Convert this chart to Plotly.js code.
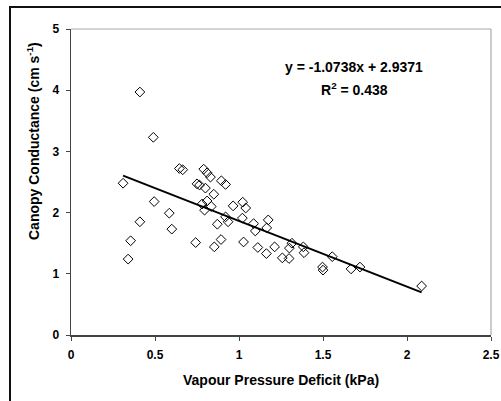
<!DOCTYPE html>
<html>
<head>
<meta charset="utf-8">
<script src="https://cdn.plot.ly/plotly-3.0.1.min.js"></script>
<style>
html,body{margin:0;padding:0;background:#fff;overflow:hidden;}
#wrap{position:relative;width:501px;height:401px;}
#chart{position:absolute;left:0;top:0;width:501px;height:401px;}
#frame{position:absolute;left:9px;top:6px;width:600px;height:600px;border-left:2px solid #111;border-top:2px solid #111;pointer-events:none;}
</style>
</head>
<body>
<div id="wrap"><div id="chart"></div><div id="frame"></div></div>
<script>
// Vapour pressure deficit (kPa)
const vpd = [0.31,0.34,0.355,0.41,0.41,0.49,0.495,0.585,0.60,0.645,0.665,0.742,0.75,0.765,0.78,0.79,0.795,0.80,0.81,0.81,0.83,0.835,0.85,0.853,0.871,0.893,0.895,0.92,0.92,0.935,0.965,1.02,1.022,1.027,1.04,1.087,1.097,1.112,1.163,1.165,1.174,1.212,1.258,1.298,1.30,1.315,1.383,1.387,1.497,1.50,1.555,1.667,1.72,2.087];
// Canopy conductance (cm s-1)
const conductance = [2.48,1.24,1.54,3.97,1.85,3.23,2.18,1.99,1.73,2.72,2.70,1.51,2.47,2.45,2.14,2.71,2.04,2.40,2.65,2.19,2.58,2.10,2.30,1.44,1.81,1.56,2.52,2.46,1.93,1.85,2.11,1.91,2.17,1.52,2.075,1.82,1.70,1.43,1.33,1.75,1.88,1.44,1.26,1.25,1.42,1.50,1.44,1.345,1.11,1.06,1.28,1.08,1.11,0.80];
// Linear fit
const slope = -1.0738;
const intercept = 2.9371;
const r2 = 0.438;
const xTicks = [0,0.5,1,1.5,2,2.5];
const xTickText = ['0','0.5','1','1.5','2','2.5'];
const yTicks = [0,1,2,3,4,5];

const xmin = Math.min(...vpd), xmax = Math.max(...vpd);
const fitX = [xmin, xmax];
const fitY = fitX.map(x => slope*x + intercept);

const fam = '"Liberation Sans", Arial, sans-serif';
const tickFont = {family:fam, size:12, color:'#000', weight:'bold'};
const labFont = {family:fam, size:14, color:'#000', weight:'bold'};

const traces = [
  {x: vpd, y: conductance, mode:'markers', type:'scatter',
   marker:{symbol:'diamond-open', size:7.5, color:'#000', line:{width:1, color:'#000'}},
   hoverinfo:'skip', cliponaxis:false},
  {x: fitX, y: fitY, mode:'lines', type:'scatter',
   line:{color:'#000', width:2}, hoverinfo:'skip'}
];

const layout = {
  width:501, height:401,
  margin:{l:71, r:10, t:29, b:66},
  paper_bgcolor:'#fff', plot_bgcolor:'#fff',
  showlegend:false,
  font: {family:fam, size:12, color:'#000'},
  xaxis:{range:[0,2.5], tickvals:xTicks, ticktext:xTickText, ticks:'outside', ticklen:4, tickwidth:1, tickcolor:'#444',
         showline:true, linecolor:'#444', linewidth:1.5, showgrid:false, zeroline:false,
         tickfont:tickFont, ticklabelstandoff:4},
  yaxis:{range:[0,5], tickvals:yTicks, ticks:'outside', ticklen:4, tickwidth:1, tickcolor:'#444',
         showline:true, linecolor:'#444', linewidth:1.5, showgrid:false, zeroline:false,
         tickfont:tickFont, ticklabelstandoff:4},
  shapes:[
    {type:'line', xref:'paper', yref:'paper', x0:0, x1:1, y0:1, y1:1, line:{color:'#aaa', width:1.2}},
    {type:'line', xref:'paper', yref:'paper', x0:1, x1:1, y0:0, y1:1, line:{color:'#aaa', width:1.2}}
  ],
  annotations:[
    {text:'y = -1.0738x + 2.9371', xref:'paper', yref:'paper', x:(354-71)/420, y:(335-67)/306, showarrow:false,
     font:labFont, xanchor:'center', yanchor:'middle'},
    {text:'R<sup>2</sup> = ' + r2.toFixed(3), xref:'paper', yref:'paper', x:(354-71)/420, y:(335-89)/306, showarrow:false,
     font:labFont, xanchor:'center', yanchor:'middle'},
    {text:'Vapour Pressure Deficit (kPa)', xref:'paper', yref:'paper', x:0.5, y:(335-380)/306, showarrow:false,
     font:labFont, xanchor:'center', yanchor:'middle'},
    {text:'Canopy Conductance (cm s<sup>-1</sup>)', xref:'paper', yref:'paper', x:(33-71)/420, y:(335-141)/306, showarrow:false,
     textangle:-90, font:labFont, xanchor:'center', yanchor:'middle'}
  ]
};

Plotly.newPlot('chart', traces, layout, {staticPlot:true, displayModeBar:false});
</script>
</body>
</html>
